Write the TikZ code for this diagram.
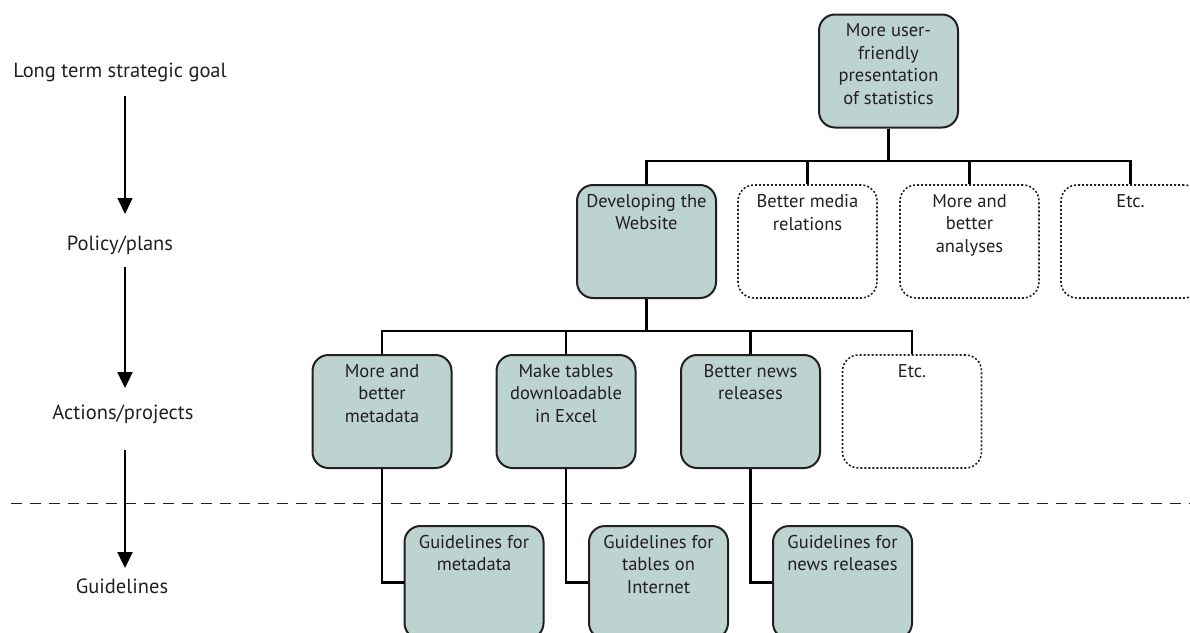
\documentclass[tikz,border=0pt]{standalone}
\usepackage{fontspec}
\setmainfont{PT Sans}
\usetikzlibrary{arrows.meta}
\definecolor{boxfill}{RGB}{188,211,208}
\definecolor{txt}{RGB}{35,31,32}
\tikzset{
  base/.style={rectangle, rounded corners=16pt, minimum width=139pt, minimum height=113pt, inner sep=0pt, line width=2pt},
  solidbox/.style={base, draw=txt, fill=boxfill},
  dotbox/.style={base, draw=txt, dotted, line width=1.6pt},
  lbl/.style={anchor=north, align=center, yshift=-7pt, inner sep=3pt, text=txt, font=\fontsize{18.5}{22.5}\selectfont, solid},
  side/.style={text=txt, font=\fontsize{20.5}{24}\selectfont},
  conn/.style={line width=2.8pt, black},
  levarrow/.style={-{Triangle[width=15pt,length=16pt]}, black},
}
\begin{document}
\begin{tikzpicture}[x=1pt,y=-1pt]
\useasboundingbox (0,0) rectangle (1190,632);
\clip (0,0) rectangle (1190,632);
% left level labels
\node[side] (l1) at (120,72) {Long term strategic goal};
\node[side] (l2) at (120,245) {Policy/plans};
\node[side] (l3) at (123,414) {Actions/projects};
\node[side] (l4) at (122,586) {Guidelines};
\coordinate (a1s) at (125,96);  \coordinate (a1e) at (125,214);
\coordinate (a2s) at (125,267); \coordinate (a2e) at (125,388);
\coordinate (a3s) at (125,450); \coordinate (a3e) at (125,568);
% dashed separator
\coordinate (d1) at (11,503); \coordinate (d2) at (1190,503);
\draw[line width=1pt, dash pattern=on 11pt off 8pt, txt] (d1) -- (d2);
\draw[levarrow, line width=1.3pt] (a1s) -- (a1e);
\draw[levarrow, line width=2.4pt] (a2s) -- (a2e);
\draw[levarrow, line width=2.4pt] (a3s) -- (a3e);
% top
\node[solidbox, label={[lbl]north:{More user-\\friendly\\presentation\\of statistics}}] (top) at (888.5,71) {};
% row 2
\node[solidbox, label={[lbl]north:{Developing the\\Website}}] (web) at (646.5,241.5) {};
\node[dotbox, label={[lbl]north:{Better media\\relations}}] (media) at (807.5,241.5) {};
\node[dotbox, label={[lbl]north:{More and\\better\\analyses}}] (anal) at (969.5,241.5) {};
\node[dotbox, label={[lbl]north:{Etc.}}] (etc1) at (1130.5,241.5) {};
% row 3
\node[solidbox, label={[lbl]north:{More and\\better\\metadata}}] (meta) at (382,411.5) {};
\node[solidbox, label={[lbl]north:{Make tables\\downloadable\\in Excel}}] (excel) at (566,411.5) {};
\node[solidbox, label={[lbl]north:{Better news\\releases}}] (news) at (750.5,411.5) {};
\node[dotbox, label={[lbl]north:{Etc.}}] (etc2) at (912,411.5) {};
% row 4
\node[solidbox, label={[lbl]north:{Guidelines for\\metadata}}] (gmeta) at (474,582.5) {};
\node[solidbox, label={[lbl]north:{Guidelines for\\tables on\\Internet}}] (gtab) at (658.5,582.5) {};
\node[solidbox, label={[lbl]north:{Guidelines for\\news releases}}] (gnews) at (842.5,582.5) {};
% connectors top -> row 2
\coordinate (bus1) at (0,161);
\draw[conn] (top.south) -- (top.south |- bus1);
\draw[conn] (web.north) -- (web.north |- bus1) -- (etc1.north |- bus1) -- (etc1.north);
\draw[conn] (media.north) -- (media.north |- bus1);
\draw[conn] (anal.north) -- (anal.north |- bus1);
% connectors web -> row 3
\coordinate (bus2) at (0,331);
\draw[conn] (web.south) -- (web.south |- bus2);
\draw[conn] (meta.north) -- (meta.north |- bus2) -- (etc2.north |- bus2) -- (etc2.north);
\draw[conn] (excel.north) -- (excel.north |- bus2);
\draw[conn] (news.north) -- (news.north |- bus2);
% row 3 -> row 4
\draw[conn] (meta.south) |- (gmeta.west);
\draw[conn] (excel.south) |- (gtab.west);
\draw[conn] (news.south) |- (gnews.west);
\end{tikzpicture}
\end{document}
